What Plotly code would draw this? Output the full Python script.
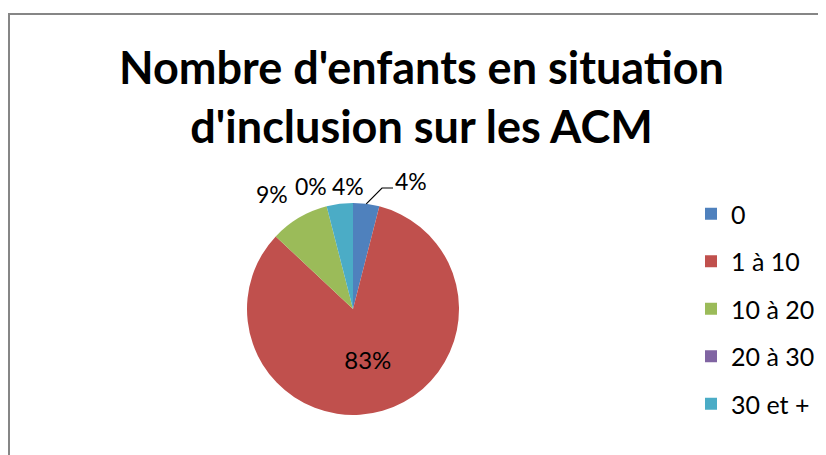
import math
import plotly.graph_objects as go

categories = ["0", "1 à 10", "10 à 20", "20 à 30", "30 et +"]
percents = [4, 83, 9, 0, 4]
colors = ["#4F81BD", "#C0504D", "#9BBB59", "#8064A2", "#4BACC6"]

title_text = "Nombre d'enfants en situation<br>d'inclusion sur les ACM"
FONT = "Lato, 'Open Sans', sans-serif"

# the page has an 8px body margin, so the figure is a bit smaller than the window
OFF = 8
W, H = 826 - OFF, 455 - OFF


def px(x):
    return (x - OFF) / W


def py(y):
    return 1 - (y - OFF) / H


# pie placement in window pixels
cx, cy, r = 353, 309, 106

fig = go.Figure()

# only the big slice gets its label inside, Excel puts the small ones above
inside_text = [f"{p}%" if p > 50 else "" for p in percents]

fig.add_trace(go.Pie(
    labels=categories,
    values=percents,
    text=inside_text,
    textinfo="text",
    textposition="inside",
    insidetextorientation="horizontal",
    textfont=dict(family=FONT, size=24, color="#000000"),
    marker=dict(colors=colors, line=dict(width=0)),
    sort=False,
    direction="clockwise",
    rotation=0,
    showlegend=False,
    hoverinfo="label+percent",
    domain=dict(x=[px(cx - r), px(cx + r)], y=[py(cy + r), py(cy - r)]),
))

# legend entries (separate groups so the spacing can match Excel)
for i, (cat, col) in enumerate(zip(categories, colors)):
    fig.add_trace(go.Scatter(
        x=[None], y=[None], mode="markers", name=cat,
        marker=dict(symbol="square", size=12, color=col),
        legendgroup=f"g{i}", showlegend=True,
    ))

# outside labels for small slices
label_pos = {0: (411, 181), 2: (272, 194), 3: (311, 186), 4: (348, 186)}
for i, (x, y) in label_pos.items():
    fig.add_annotation(
        x=px(x), y=py(y), xref="paper", yref="paper",
        text=f"{percents[i]}%", showarrow=False,
        font=dict(family=FONT, size=23, color="#000000"),
        xanchor="center", yanchor="middle",
    )

# leader line for the first slice, anchored at its mid-angle on the rim
total = sum(percents)
mid = (percents[0] / 2) / total * 2 * math.pi
ex, ey = cx + r * math.sin(mid), cy - r * math.cos(mid)
elbow_x, elbow_y = 382, 188
end_x = 393
fig.add_shape(
    type="path", xref="paper", yref="paper",
    path=f"M {px(ex)} {py(ey)} L {px(elbow_x)} {py(elbow_y)} L {px(end_x)} {py(elbow_y)}",
    line=dict(color="#000000", width=1.2),
)

# chart area border (right and bottom edges fall outside the picture)
fig.add_shape(
    type="rect", xref="paper", yref="paper",
    x0=px(9), y0=-0.1, x1=1.1, y1=py(14),
    line=dict(color="#868686", width=2),
)

fig.add_annotation(
    x=px(422), y=py(38), xref="paper", yref="paper",
    text=f"<b>{title_text}</b>", showarrow=False,
    font=dict(family=FONT, size=45, color="#000000"),
    xanchor="center", yanchor="top",
)

fig.update_layout(
    width=W, height=H,
    margin=dict(l=0, r=0, t=0, b=0),
    paper_bgcolor="#FFFFFF",
    plot_bgcolor="#FFFFFF",
    xaxis=dict(visible=False),
    yaxis=dict(visible=False),
    legend=dict(
        x=px(691), y=py(191), xanchor="left", yanchor="top",
        font=dict(family=FONT, size=25, color="#000000"),
        tracegroupgap=12,
        bgcolor="rgba(0,0,0,0)",
    ),
)

fig.write_html("out.html")
